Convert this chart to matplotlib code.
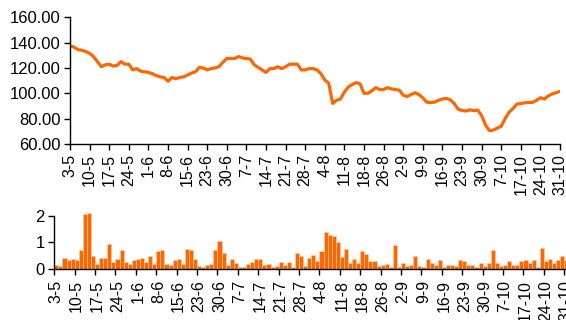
import numpy as np
import matplotlib
matplotlib.use('Agg')
import matplotlib.pyplot as plt
from matplotlib.ticker import FormatStrFormatter

plt.rcParams['font.family'] = ['Liberation Sans', 'DejaVu Sans']

# tick labels, one every 5 trading days
date_labels = ['3-5', '10-5', '17-5', '24-5', '1-6', '8-6', '15-6', '23-6', '30-6',
               '7-7', '14-7', '21-7', '28-7', '4-8', '11-8', '18-8', '26-8', '2-9',
               '9-9', '16-9', '23-9', '30-9', '7-10', '17-10', '24-10', '31-10']

# daily index level
index_level = [
    137.5, 136.5, 134.5, 134.0, 133.0, 131.5, 129.0, 125.0, 121.0, 122.5,
    123.0, 121.5, 122.0, 125.0, 123.0, 123.0, 118.5, 119.5, 117.5, 117.0,
    116.5, 115.5, 114.0, 113.0, 112.5, 109.5, 112.5, 111.5, 112.5, 113.0,
    114.5, 116.0, 117.0, 120.5, 120.0, 118.5, 119.5, 120.0, 121.0, 124.5,
    127.5, 127.5, 127.5, 129.0, 128.0, 127.5, 127.0, 122.5, 120.5, 118.5,
    116.5, 119.5, 119.5, 121.0, 119.5, 121.0, 123.0, 123.0, 123.0, 118.5,
    118.5, 119.5, 119.5, 118.5, 115.5, 110.5, 108.0, 92.0, 94.5, 95.5,
    101.0, 105.0, 107.0, 108.5, 107.5, 100.0, 100.0, 102.0, 104.5, 103.0,
    103.0, 104.5, 103.5, 103.0, 102.5, 98.5, 97.5, 99.0, 100.5, 99.0,
    96.5, 93.0, 92.8, 93.0, 94.5, 95.5, 96.0, 95.0, 92.0, 87.5,
    86.5, 86.0, 87.0, 86.3, 86.8, 82.5, 75.0, 70.5, 71.0, 72.5,
    74.0, 80.0, 85.0, 88.0, 91.5, 92.0, 92.5, 92.8, 92.8, 94.5,
    96.5, 95.5, 98.0, 99.5, 100.5, 101.5]

# daily volume
volume = [
    0.15, 0.09, 0.42, 0.32, 0.38, 0.32, 0.72, 2.06, 2.09, 0.48,
    0.19, 0.42, 0.42, 0.94, 0.25, 0.38, 0.72, 0.25, 0.19, 0.32,
    0.38, 0.42, 0.25, 0.48, 0.19, 0.66, 0.72, 0.19, 0.13, 0.32,
    0.38, 0.19, 0.76, 0.72, 0.38, 0.09, 0.05, 0.15, 0.19, 0.72,
    1.05, 0.60, 0.15, 0.38, 0.22, 0.05, 0.05, 0.19, 0.25, 0.38,
    0.38, 0.15, 0.19, 0.05, 0.09, 0.25, 0.15, 0.25, 0.05, 0.60,
    0.48, 0.09, 0.42, 0.53, 0.28, 0.66, 1.39, 1.29, 1.23, 0.99,
    0.44, 0.76, 0.22, 0.38, 0.22, 0.66, 0.54, 0.28, 0.28, 0.10,
    0.15, 0.19, 0.05, 0.89, 0.05, 0.22, 0.10, 0.15, 0.48, 0.10,
    0.05, 0.38, 0.22, 0.15, 0.34, 0.05, 0.15, 0.15, 0.10, 0.32,
    0.28, 0.15, 0.15, 0.05, 0.22, 0.10, 0.22, 0.72, 0.22, 0.10,
    0.15, 0.28, 0.15, 0.15, 0.28, 0.34, 0.22, 0.32, 0.05, 0.78,
    0.28, 0.38, 0.22, 0.32, 0.48, 0.32]

orange = '#ff6600'
fs_x = 11.5
fs_y = 12

fig = plt.figure(figsize=(5.66, 3.2), dpi=100)

# line panel
ax1 = fig.add_axes([70 / 566, 1 - 144 / 320, 490 / 566, 126.7 / 320])
x = np.arange(len(index_level))
ax1.plot(x, index_level, color=orange, lw=2.3, solid_joinstyle='round')
ax1.set_xlim(0, len(index_level) - 1)
ax1.set_ylim(60, 160)
ax1.set_yticks(np.arange(60, 161, 20))
ax1.yaxis.set_major_formatter(FormatStrFormatter('%.2f'))
ax1.set_xticks(np.arange(0, len(index_level), 5))
ax1.set_xticklabels(date_labels, rotation=90)
ax1.tick_params(direction='out', length=4, width=1, pad=3)
ax1.tick_params(axis='x', labelsize=fs_x)
ax1.tick_params(axis='y', labelsize=fs_y)

# volume bars
ax2 = fig.add_axes([54.3 / 566, 1 - 268.6 / 320, 514 / 566, 52.8 / 320])
xb = np.arange(len(volume))
bars = ax2.bar(xb, volume, width=1.0, color=orange, edgecolor='#ffc9a3', linewidth=0.5)
for b in bars:
    b.set_clip_on(False)
ax2.set_xlim(-0.5, len(volume) - 0.5)
ax2.set_ylim(0, 2)
ax2.set_yticks([0, 1, 2])
ax2.set_xticks(np.arange(0, len(volume), 5))
ax2.set_xticklabels(date_labels, rotation=90)
ax2.set_xticks(np.arange(0, len(volume), 5) - 0.5, minor=True)
ax2.tick_params(axis='x', which='major', length=0, labelsize=fs_x, pad=8)
ax2.tick_params(axis='x', which='minor', direction='out', length=4, width=1)
ax2.tick_params(axis='y', direction='out', length=4, width=1, labelsize=fs_y, pad=3)

for ax in (ax1, ax2):
    ax.spines['top'].set_visible(False)
    ax.spines['right'].set_visible(False)
    ax.spines['left'].set_linewidth(1)
    ax.spines['bottom'].set_linewidth(1)

fig.savefig('out.png', dpi=100)
